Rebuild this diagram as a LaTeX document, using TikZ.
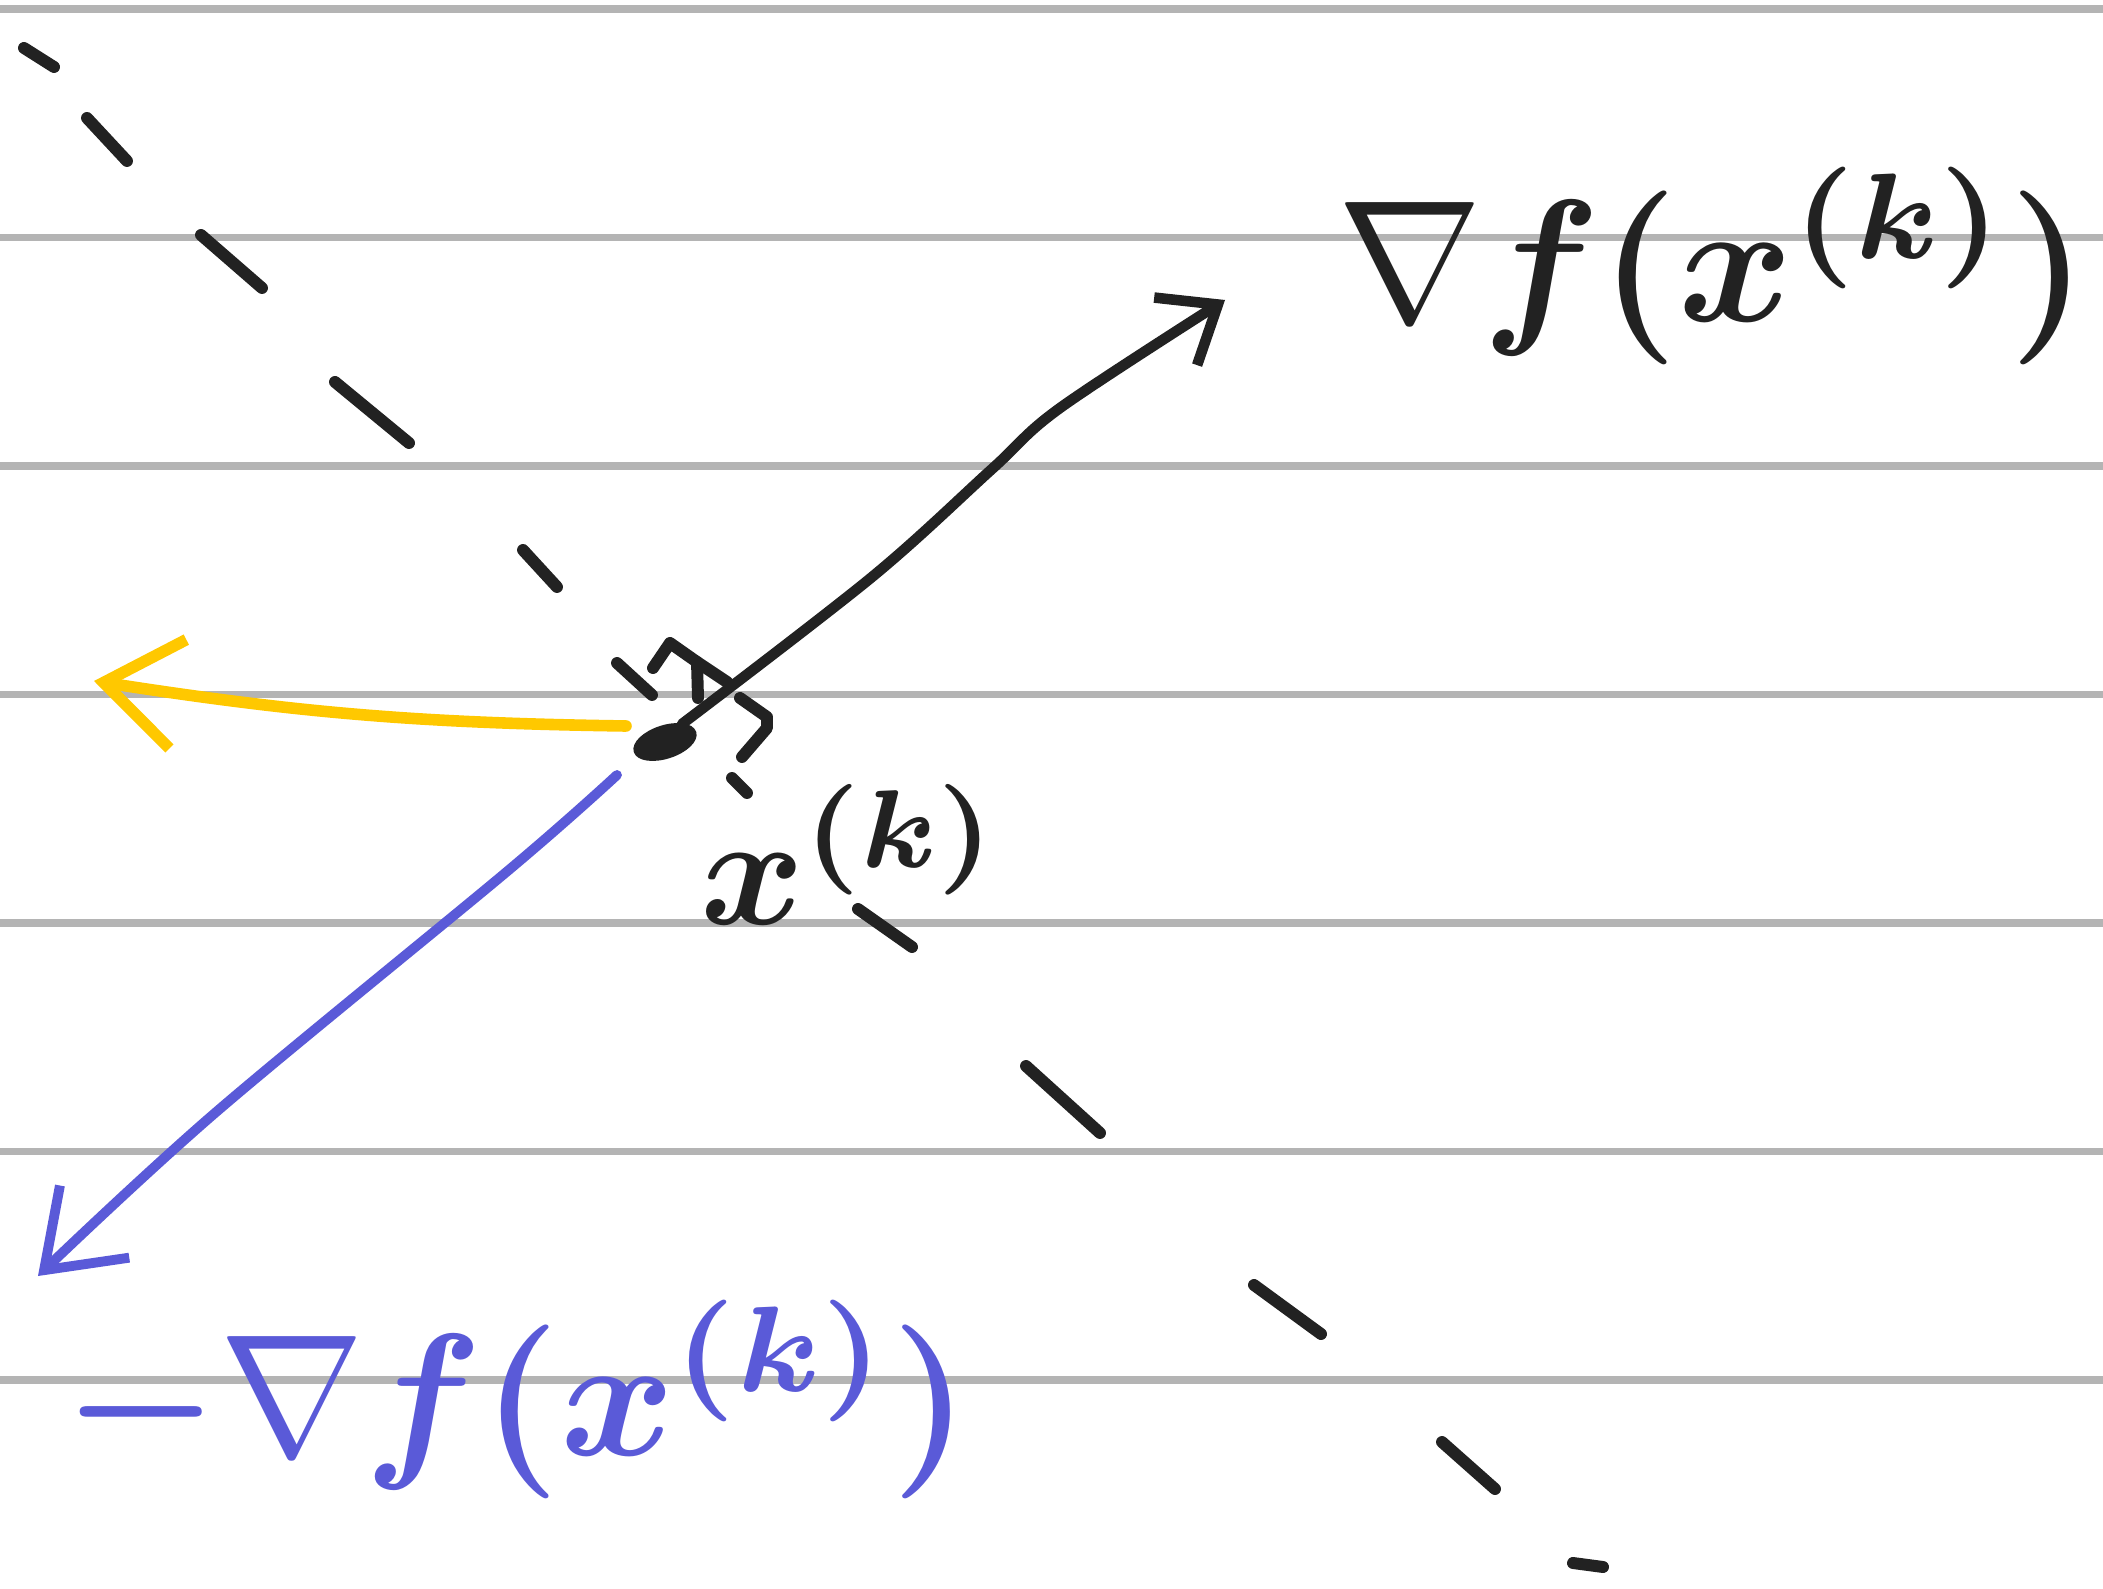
\documentclass[tikz,border=0pt]{standalone}
\usetikzlibrary{arrows.meta,shapes.geometric}
\definecolor{ink}{HTML}{222222}
\definecolor{rulegray}{HTML}{B4B4B4}
\definecolor{yel}{HTML}{FFC800}
\definecolor{blu}{HTML}{5A5AD8}
\newcommand{\myboldm}[1]{\mbox{\boldmath$#1$}}
\newcommand{\mynabla}{\mbox{$\nabla$}}
\begin{document}
\begin{tikzpicture}[x=0.01cm,y=-0.01cm, line cap=round, line join=round,
  rule/.style={draw=rulegray, line width=2.2pt},
  dashmark/.style={draw=ink, line width=3.4pt},
  lbl/.style={inner sep=0pt, anchor=base west}]
\fill[white] (0,0) rectangle (2103,1589);
\useasboundingbox (0,0) rectangle (2103,1589);
% ruled lines
\foreach \yy in {9,237.5,466,694.5,923,1151.5,1380}
  \draw[rule] (0,\yy) -- (2103,\yy);
% dashed orthogonal line
\foreach \ax/\ay/\bx/\by in {24/48/54/67, 87/118/127/161, 201/235/262/288, 335/382/409/443,
  523/550/557/587, 617/663/652/695, 732/778/747/793, 858/909/912/947,
  1026/1066/1100/1133, 1254/1285/1321/1334, 1442/1442/1495/1489, 1573/1563/1603/1567}
  \draw[dashmark] (\ax,\ay) -- (\bx,\by);
% right-angle mark
\draw[dashmark] (653,668) -- (670,643) -- (697,662) -- (698,698);
\draw[dashmark] (697,662) -- (727,682);
\draw[dashmark] (740,698) -- (767,717) -- (767,728) -- (742,757);
% point
\node[ellipse, draw=ink, fill=ink, line width=1pt, minimum width=0.62cm, minimum height=0.3cm, inner sep=0pt, rotate=18] (P) at (665,742) {};
\coordinate (Ks) at (682,724);
\coordinate (Kt) at (1225,300);
\coordinate (Ys) at (626,726);
\coordinate (Ye) at (94,681);
\coordinate (Bs) at (617,775);
\coordinate (Be) at (38,1276);
% gradient arrow (black)
\draw[ink, line width=3pt, -{Straight Barb[length=0.5cm,width=0.8cm]}]
  plot[smooth, tension=0.55] coordinates {(Ks) (872,577) (992,469) (1060,408) (Kt)};
% yellow arrow
\draw[yel, line width=3.3pt, -{Straight Barb[length=0.75cm,width=1.1cm]}]
  (Ys) to[bend left=4] (Ye);
% blue arrow
\draw[blu, line width=2.8pt, -{Straight Barb[length=0.7cm,width=1.0cm]}]
  plot[smooth, tension=0.55] coordinates {(Bs) (510,869) (215,1113) (Be)};
% labels
\node[lbl, text=ink, scale=4.95] (g) at (1334,322) {\mynabla\myboldm{f(x^{(k)})}};
\node[lbl, text=ink, scale=4.5] (xk) at (697,925) {\myboldm{x^{(k)}}};
\node[lbl, text=blu, scale=4.95] (ng) at (60,1455) {\myboldm{-}\mynabla\myboldm{f(x^{(k)})}};
\end{tikzpicture}
\end{document}
